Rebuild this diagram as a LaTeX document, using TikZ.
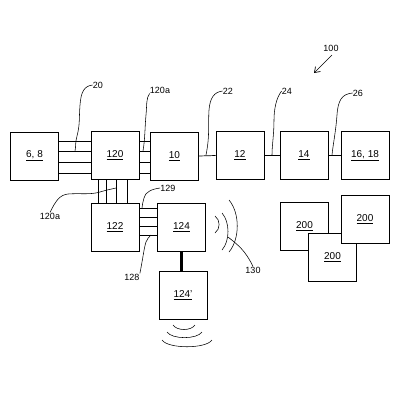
\documentclass[tikz,border=0pt]{standalone}
\usepackage{fontspec}
\setmainfont{Liberation Sans}
\usetikzlibrary{arrows.meta}
\begin{document}
\begin{tikzpicture}[x=1pt,y=-1pt, line width=0.7pt,
 box/.style={draw, fill=white, minimum width=48pt, minimum height=48pt, inner sep=0pt, font=\fontsize{10}{12}\selectfont},
 lbl/.style={inner sep=0pt, font=\fontsize{9}{11}\selectfont},
 lead/.style={line width=0.55pt},
 thick link/.style={line width=2.2pt}]
\useasboundingbox (0,0) rectangle (400,400);

% boxes
\node[box] (b68) at (34.5,156) {\underline{6, 8}};
\node[box] (b120) at (115,155.5) {\underline{120}};
\node[box] (b10) at (174.5,156) {\underline{10}};
\node[box] (b12) at (240,155.5) {\underline{12}};
\node[box] (b14) at (304,155.5) {\underline{14}};
\node[box] (b1618) at (365,155.5) {\underline{16, 18}};
\node[box] (b122) at (115,227.5) {\underline{122}};
\node[box] (b124) at (181.5,227.5) {\underline{124}};
\node[box] (b124p) at (183,295) {\underline{124'}};
\node[box] (s1) at (304.5,226.5) {\underline{200}};
\node[box] (s3) at (332.5,257.5) {\underline{200}};
\node[box] (s2) at (365,219) {\underline{200}};

% buses
\foreach \y in {141,151,162,173} {
  \draw (b68.east |- 0,\y) -- (b120.west |- 0,\y);
  \draw (b120.east |- 0,\y) -- (b10.west |- 0,\y);
}
\foreach \x in {98,106,116,127}
  \draw (b120.south -| \x,0) -- (b122.north -| \x,0);
\foreach \y in {208,217,226,235}
  \draw (b122.east |- 0,\y) -- (b124.west |- 0,\y);
\draw (b10.east) -- (b12.west);
\draw (b12.east) -- (b14.west);
\draw (b14.east) -- (b1618.west);
\draw[thick link] (b124.south) -- (b124.south |- b124p.north);

% wireless arcs
\draw[lead] (215,216) .. controls (220.5,220) and (220.5,229) .. (215,233);
\draw[lead] (222,213) .. controls (230,222) and (230,241) .. (222,250);
\draw[lead] (229,200) .. controls (240,213) and (240,239) .. (229,252);
\draw[lead] (173,325) .. controls (177,331) and (191,331) .. (195,325);
\draw[lead] (167,332) .. controls (172,339.5) and (197,339.5) .. (202,332);
\draw[lead] (162,340) .. controls (168,349) and (206,349) .. (212,340);

% labels and leaders
\node[lbl] (l20) at (98,85) {20};
\coordinate (e20) at (75,151);
\draw[lead] (l20.west) .. controls (84,86) and (81,92) .. (80,105) .. controls (79,118) and (80,125) .. (77,136) .. controls (75,143) and (76,147) .. (e20);

\node[lbl] (l120a) at (160,90) {120a};
\coordinate (e120a) at (143,151);
\draw[lead] (l120a.south west) .. controls (146,98) and (147,105) .. (146,115) .. controls (145,125) and (145,140) .. (e120a);

\node[lbl] (l22) at (228,91) {22};
\coordinate (e22) at (206,155);
\draw[lead] (l22.west) .. controls (214,92) and (210,98) .. (209,110) .. controls (208,125) and (210,135) .. (e22);

\node[lbl] (l24) at (287,91) {24};
\coordinate (e24) at (272,155);
\draw[lead] (l24.west) .. controls (276,98) and (274,110) .. (274,120) .. controls (274,135) and (272,145) .. (e24);

\node[lbl] (l26) at (358,93) {26};
\coordinate (e26) at (332,155);
\draw[lead] (l26.west) .. controls (342,94) and (338,100) .. (337,115) .. controls (336,130) and (333,145) .. (e26);

\node[lbl] (l120b) at (50,216) {120a};
\coordinate (e120b) at (116,188);
\draw[lead] (l120b.north) .. controls (56,200) and (60,195) .. (68,194) .. controls (80,193) and (90,195) .. (100,192) .. controls (106,190) and (112,189) .. (e120b);

\node[lbl] (l129) at (168,188) {129};
\coordinate (e129) at (142,208);
\draw[lead] (l129.west) .. controls (152,189) and (145,192) .. (144,198) .. controls (143,202) and (142,205) .. (e129);

\node[lbl] (l128) at (132,277) {128};
\coordinate (e128) at (151,235);
\draw[lead] (l128.north east) .. controls (143,258) and (144,248) .. (146,242) .. controls (147,239) and (149,237) .. (e128);

\node[lbl] (l130) at (253,270) {130};
\coordinate (e130) at (228,237);
\draw[lead] (l130.north) .. controls (245,250) and (238,245) .. (e130);

\node[lbl] (l100) at (331,48) {100};
\coordinate (e100) at (314,73);
\draw[-{Straight Barb[length=5pt,width=7pt]}] (332,55) -- (e100);
\end{tikzpicture}
\end{document}
